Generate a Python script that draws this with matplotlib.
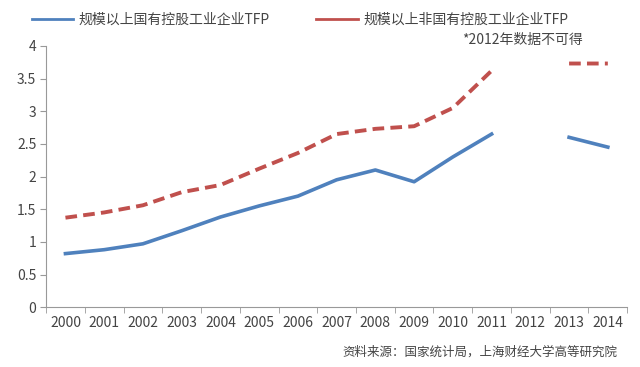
import numpy as np
import matplotlib
matplotlib.use("Agg")
import matplotlib.pyplot as plt

plt.rcParams['font.family'] = ['Noto Sans CJK SC', 'DejaVu Sans']

years = ['2000', '2001', '2002', '2003', '2004', '2005', '2006', '2007',
         '2008', '2009', '2010', '2011', '2012', '2013', '2014']
soe_tfp = [0.82, 0.88, 0.97, 1.17, 1.38, 1.55, 1.70, 1.95,
           2.10, 1.92, 2.30, 2.65, np.nan, 2.60, 2.45]
non_soe_tfp = [1.37, 1.45, 1.56, 1.76, 1.87, 2.12, 2.36, 2.65,
               2.73, 2.77, 3.05, 3.62, np.nan, 3.73, 3.73]
soe_label = '规模以上国有控股工业企业TFP'
non_soe_label = '规模以上非国有控股工业企业TFP'

blue = '#4f81bd'
red = '#c0504d'
grey = '#999999'
text_c = '#444444'

fig = plt.figure(figsize=(6.4, 3.67), dpi=100)
ax = fig.add_axes([0.072, 0.163, 0.908, 0.712])

x = np.arange(len(years))
ax.plot(x, soe_tfp, color=blue, lw=2.6, label=soe_label)
ax.plot(x, non_soe_tfp, color=red, lw=2.8, ls=(0, (3, 1.6)), label=non_soe_label)

ax.set_xlim(-0.5, len(years) - 0.5)
ax.set_ylim(0, 4)
ax.set_yticks(np.arange(0, 4.01, 0.5))
ax.set_yticklabels(['0', '0.5', '1', '1.5', '2', '2.5', '3', '3.5', '4'])
ax.set_xticks(x)
ax.set_xticklabels(years)
ax.set_xticks(np.arange(-0.5, len(years), 1), minor=True)
ax.tick_params(axis='x', which='major', length=0, pad=6)
ax.tick_params(axis='x', which='minor', length=4, color=grey, direction='out')
ax.tick_params(axis='y', length=4, color=grey, pad=3)
ax.tick_params(labelsize=10, labelcolor=text_c)

for s in ['top', 'right']:
    ax.spines[s].set_visible(False)
for s in ['left', 'bottom']:
    ax.spines[s].set_color(grey)
    ax.spines[s].set_linewidth(0.8)

# legend drawn as plain lines
fig.legend(handles=ax.get_lines(), labels=[soe_label, non_soe_label],
           loc='upper left', bbox_to_anchor=(0.03, 1.0), ncol=2,
           frameon=False, fontsize=10, handlelength=3.0, columnspacing=3.3,
           handletextpad=0.4, labelcolor=text_c)
leg = fig.legends[0]
for ln in leg.get_lines():
    ln.set_linestyle('-')
    ln.set_linewidth(2)

fig.text(0.91, 0.89, '*2012年数据不可得', ha='right', va='center',
         fontsize=10, color=text_c)
fig.text(0.965, 0.04, '资料来源：国家统计局，上海财经大学高等研究院',
         ha='right', va='center', fontsize=9, color=text_c)

fig.savefig('out.png', dpi=100)
